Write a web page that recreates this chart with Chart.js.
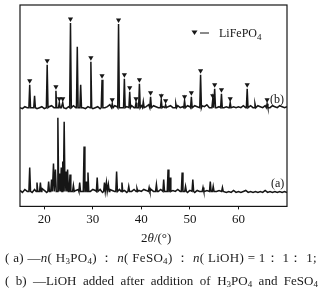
<!DOCTYPE html>
<html>
<head>
<meta charset="utf-8">
<script src="https://cdn.jsdelivr.net/npm/chart.js@4/dist/chart.umd.min.js"></script>
<style>
  html, body { margin: 0; padding: 0; background: #fff; }
  #wrap { position: relative; width: 322px; height: 292px; overflow: hidden; }
  #xrd { position: absolute; left: 0; top: 0; }
  .cap { position: absolute; left: 5px; font-family: "Liberation Serif", serif; font-size: 13px; color: #1a1a1a;
         white-space: nowrap; text-align: justify; text-align-last: justify; letter-spacing: 0.3px; }
  .cap sub { font-size: 9px; vertical-align: -2px; line-height: 0; }
  .cap i { font-style: italic; }
</style>
</head>
<body>
<div id="wrap">
  <canvas id="xrd" width="322" height="292"></canvas>
  <div class="cap" style="top:249px; width:308px;">( a) —<i>n</i>( H<sub>3</sub>PO<sub>4</sub>) ： <i>n</i>( FeSO<sub>4</sub>) ： <i>n</i>( LiOH) = 1： 1： 1;</div>
  <div class="cap" style="top:273px; width:313px; letter-spacing:0;">( b) —LiOH added after addition of H<sub>3</sub>PO<sub>4</sub> and FeSO<sub>4</sub></div>
</div>
<script>
  // 2theta axis
  var angleMin = 15, angleMax = 70;
  var angleTicks = [20, 30, 40, 50, 60];
  var scanStep = 0.5;

  // vertical offsets of the two patterns (arbitrary units)
  var offsetA = 13, offsetB = 97;

  // pattern (b): [2theta, intensity]
  var peaksB = [
    [17.0, 25], [18.0, 14], [20.6, 45], [22.4, 19], [23.1, 7], [23.8, 7], [25.4, 87],
    [26.8, 63], [27.5, 25], [29.6, 48], [31.9, 30], [34.0, 6], [35.3, 86], [36.5, 31],
    [37.6, 18], [38.9, 7], [39.6, 26], [40.4, 8], [41.9, 13], [44.1, 10], [45.0, 5],
    [47.1, 6], [48.9, 9], [50.3, 13], [52.2, 35], [54.7, 10], [55.1, 21], [56.5, 16],
    [58.3, 7], [61.8, 21], [63.4, 6], [65.9, 6]
  ];
  // LiFePO4 reflections marked in (b)
  var lifepo4B = [17.0, 20.6, 22.4, 23.1, 23.8, 25.4, 29.6, 31.9, 34.0, 35.3, 36.5, 37.6,
    38.9, 39.6, 41.9, 44.1, 45.0, 48.9, 50.3, 52.2, 54.7, 55.1, 56.5, 58.3, 61.8, 65.9];

  // pattern (a): [2theta, intensity]
  var peaksA = [
    [17.0, 26], [18.5, 11], [19.2, 11], [20.9, 12], [21.5, 14], [21.9, 30], [22.3, 24],
    [22.8, 76], [23.2, 20], [23.5, 26], [23.8, 32], [24.1, 72], [24.5, 22], [24.8, 24],
    [25.3, 19], [26.0, 8], [27.3, 11], [28.2, 47], [28.6, 12], [29.0, 21], [30.9, 16],
    [32.4, 11], [32.8, 11], [33.2, 9], [34.9, 22], [36.0, 11], [37.4, 7], [39.1, 5],
    [41.6, 6], [43.1, 9], [44.6, 14], [45.5, 24], [45.9, 16], [48.4, 21], [49.1, 7],
    [50.6, 14], [52.7, 6], [54.2, 12], [54.8, 7], [56.7, 6]
  ];

  // background noise (15..70, step 0.5)
  var rippleB = [
    2, 1, 3, 2, 1, 2, 4, 1, 2, 3,
    1, 2, 3, 4, 2, 5, 3, 2, 4, 1,
    3, 2, 4, 2, 1, 3, 2, 1, 3, 2,
    1, 2, 3, 1, 4, 2, 3, 5, 2, 4,
    3, 5, 2, 4, 3, 5, 4, 2, 5, 3,
    4, 2, 3, 5, 2, 4, 3, 2, 4, 3,
    2, 3, 4, 2, 3, 4, 2, 3, 2, 4,
    3, 2, 4, 3, 2, 4, 3, 5, 2, 3,
    4, 2, 3, 4, 2, 3, 2, 4, 3, 2,
    3, 2, 4, 2, 3, 4, 2, 3, 4, 3,
    2, 4, 3, 2, 4, 3, 2, 4, 3, 2,
    3
  ];
  var rippleA = [
    3, 1, 4, 2, 3, 1, 4, 3, 2, 5,
    3, 1, 4, 2, 5, 3, 4, 2, 5, 3,
    4, 2, 5, 3, 4, 2, 4, 3, 5, 2,
    4, 3, 2, 4, 1, 3, 2, 4, 3, 2,
    3, 4, 2, 3, 1, 3, 2, 4, 2, 3,
    2, 4, 3, 2, 4, 2, 3, 2, 4, 3,
    2, 3, 1, 3, 2, 4, 2, 3, 2, 1,
    3, 2, 1, 3, 2, 1, 2, 3, 1, 2,
    1, 2, 3, 1, 2, 1, 2, 1, 3, 1,
    2, 1, 2, 3, 1, 2, 1, 2, 1, 2,
    1, 3, 1, 2, 1, 2, 1, 2, 1, 2,
    1
  ];

  function buildTrace(peaks, ripple, offset) {
    var pts = [];
    ripple.forEach(function (r, i) {
      var x = angleMin + i * scanStep;
      var nearPeak = peaks.some(function (p) { return Math.abs(p[0] - x) < 0.25; });
      if (!nearPeak) pts.push({ x: x, y: offset + r });
    });
    peaks.forEach(function (p) {
      pts.push({ x: p[0] - 0.17, y: offset + 2 });
      pts.push({ x: p[0], y: offset + p[1] });
      pts.push({ x: p[0] + 0.17, y: offset + 2 });
    });
    pts.sort(function (a, b) { return a.x - b.x; });
    return pts;
  }

  function buildMarkers(peaks, marked, offset) {
    return marked.map(function (pos) {
      var pk = peaks.find(function (p) { return p[0] === pos; });
      return { x: pos, y: offset + pk[1] + 4 };
    });
  }

  var ink = '#161616';
  var serif = '"Liberation Serif", "DejaVu Serif", serif';

  var decor = {
    id: 'decor',
    afterDraw: function (chart) {
      var c = chart.ctx, a = chart.chartArea;
      c.save();
      c.strokeStyle = ink;
      c.lineWidth = 1.2;
      c.strokeRect(a.left, a.top, a.right - a.left, a.bottom - a.top);

      c.fillStyle = ink;
      // legend
      c.beginPath();
      c.moveTo(191.5, 30.5); c.lineTo(197.5, 30.5); c.lineTo(194.5, 35);
      c.closePath(); c.fill();
      c.lineWidth = 1;
      c.beginPath(); c.moveTo(200, 33); c.lineTo(209, 33); c.stroke();
      c.font = '12px ' + serif;
      c.textBaseline = 'alphabetic';
      c.fillText('LiFePO', 219, 37);
      var w = c.measureText('LiFePO').width;
      c.font = '9px ' + serif;
      c.fillText('4', 219 + w, 40);

      // pattern labels
      c.font = '12px ' + serif;
      c.fillText('(b)', 270, 103);
      c.fillText('(a)', 271, 187);

      // x title 2θ/(°)
      c.font = '13px ' + serif;
      var y = 242, x = 141;
      c.fillText('2', x, y); x += c.measureText('2').width;
      c.font = 'italic 13px ' + serif;
      c.fillText('θ', x, y); x += c.measureText('θ').width;
      c.font = '13px ' + serif;
      c.fillText('/(°)', x, y);
      c.restore();
    }
  };

  var ctx = document.getElementById('xrd').getContext('2d');
  new Chart(ctx, {
    type: 'line',
    data: {
      datasets: [
        { data: buildTrace(peaksB, rippleB, offsetB), borderColor: ink, borderWidth: 1.5, pointRadius: 0, tension: 0 },
        { data: buildTrace(peaksA, rippleA, offsetA), borderColor: ink, borderWidth: 1.5, pointRadius: 0, tension: 0 },
        { type: 'scatter', data: buildMarkers(peaksB, lifepo4B, offsetB), pointStyle: 'triangle', rotation: 180,
          pointRadius: 3, backgroundColor: ink, borderWidth: 0 }
      ]
    },
    options: {
      responsive: false,
      animation: false,
      layout: { padding: { left: 20, right: 35, top: 5, bottom: 63 } },
      plugins: { legend: { display: false }, tooltip: { enabled: false } },
      scales: {
        x: {
          type: 'linear', min: angleMin, max: angleMax,
          afterBuildTicks: function (s) { s.ticks = angleTicks.map(function (v) { return { value: v }; }); },
          grid: { display: true, drawOnChartArea: false, drawTicks: true, tickLength: 3, color: ink },
          border: { display: false },
          ticks: { color: ink, font: { family: serif, size: 13 }, padding: 2, maxRotation: 0 }
        },
        y: { display: false, min: 0, max: 202 }
      }
    },
    plugins: [decor]
  });
</script>
</body>
</html>
